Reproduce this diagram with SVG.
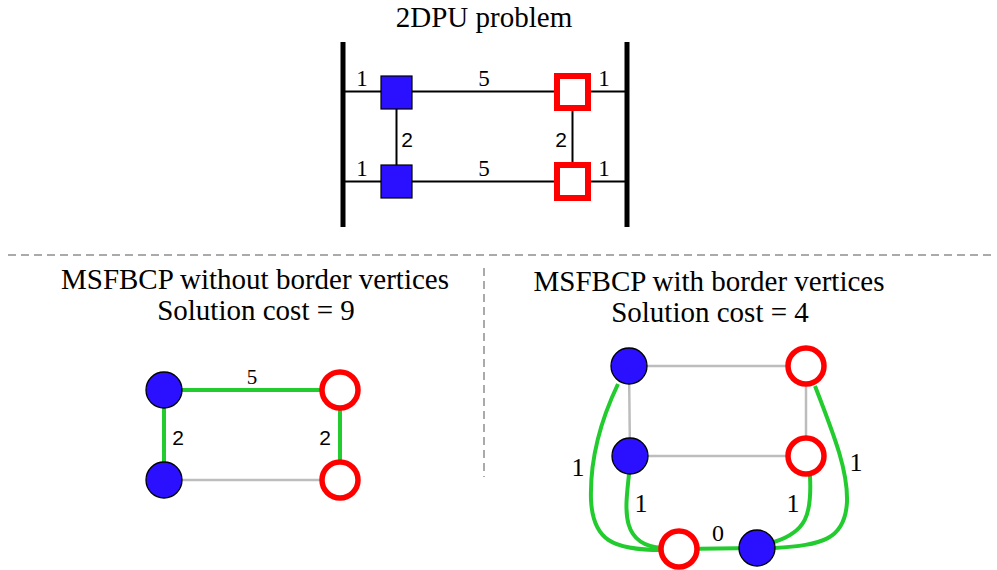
<svg xmlns="http://www.w3.org/2000/svg" width="997" height="570" viewBox="0 0 997 570">
<style>
.serif{font-family:'Liberation Serif','Times New Roman',Tinos,'Nimbus Roman','FreeSerif','DejaVu Serif','Noto Serif',Times,serif;fill:#000}
.sans{font-family:'Liberation Sans',Arial,'DejaVu Sans',sans-serif;fill:#000}
.title{font-size:29px;text-anchor:middle}
.lbl{text-anchor:middle}
.bar{stroke:#000;stroke-width:5;fill:none}
.blk{stroke:#000;stroke-width:2;fill:none}
.grn{stroke:#22cc2e;stroke-width:4;fill:none}
.gry{stroke:#bdbdbd;stroke-width:2.5;fill:none}
.dash{stroke:#aaaaaa;stroke-width:2;stroke-dasharray:8,5;fill:none}
.bsq{fill:#2a10ff;stroke:#000;stroke-width:1.2}
.rsq{fill:#fff;stroke:#ff0000;stroke-width:6}
.bci{fill:#2a10ff;stroke:#000;stroke-width:1.3}
.rci{fill:#fff;stroke:#ff0000;stroke-width:5.5}
</style>
<rect width="997" height="570" fill="#fff"/>

<g id="titles">
<text class="serif title" x="484" y="27">2DPU problem</text>
<text class="serif title" x="255" y="289">MSFBCP without border vertices</text>
<text class="serif title" x="256" y="320">Solution cost = 9</text>
<text class="serif title" x="709" y="291">MSFBCP with border vertices</text>
<text class="serif title" x="710" y="322">Solution cost = 4</text>
</g>

<g id="separators">
<line class="dash" x1="8" y1="255" x2="994" y2="255"/>
<line class="dash" x1="484" y1="268" x2="484" y2="477"/>
</g>

<g id="connectors">
<line class="bar" x1="343" y1="42" x2="343" y2="227"/>
<line class="bar" x1="627" y1="42" x2="627" y2="227"/>
<line class="blk" x1="343" y1="91.5" x2="627" y2="91.5"/>
<line class="blk" x1="343" y1="181.5" x2="627" y2="181.5"/>
<line class="blk" x1="396.5" y1="92" x2="396.5" y2="182"/>
<line class="blk" x1="572.5" y1="92" x2="572.5" y2="182"/>
<line class="grn" x1="164" y1="390" x2="340" y2="390"/>
<line class="grn" x1="164" y1="390" x2="164" y2="480"/>
<line class="grn" x1="340" y1="390" x2="340" y2="480"/>
<line class="gry" x1="164" y1="480" x2="340" y2="480"/>
<line class="gry" x1="629" y1="366" x2="806" y2="366"/>
<line class="gry" x1="630" y1="456" x2="806" y2="456"/>
<line class="gry" x1="629" y1="366" x2="630" y2="456"/>
<line class="gry" x1="806" y1="366" x2="806" y2="456"/>
<line class="grn" x1="679" y1="549" x2="757" y2="548"/>
<path class="grn" d="M618,384 C597,428 590,468 591,500 C593,540 612,550 662,550"/>
<path class="grn" d="M629,474 C626,505 618,545 662,548"/>
<path class="grn" d="M810,476 C812,515 806,532 774,542"/>
<path class="grn" d="M815,386 C836,440 848,472 847,502 C845,540 822,545 774,548"/>
</g>

<g id="labels">
<text class="serif lbl" font-size="23" x="362" y="86">1</text>
<text class="serif lbl" font-size="23" x="484" y="86">5</text>
<text class="serif lbl" font-size="23" x="604" y="86">1</text>
<text class="sans lbl" font-size="21" x="407" y="147">2</text>
<text class="sans lbl" font-size="21" x="561" y="147">2</text>
<text class="serif lbl" font-size="23" x="362" y="176">1</text>
<text class="serif lbl" font-size="23" x="484" y="176">5</text>
<text class="serif lbl" font-size="23" x="604" y="176">1</text>
<text class="serif lbl" font-size="21" x="252" y="384">5</text>
<text class="sans lbl" font-size="21" x="178" y="445">2</text>
<text class="sans lbl" font-size="21" x="325" y="445">2</text>
<text class="serif lbl" font-size="26" x="578" y="476">1</text>
<text class="serif lbl" font-size="26" x="641" y="512">1</text>
<text class="serif lbl" font-size="26" x="793" y="512">1</text>
<text class="serif lbl" font-size="26" x="856" y="471">1</text>
<text class="serif lbl" font-size="24" x="718" y="541">0</text>
</g>

<g id="n_top_b1"><rect class="bsq" x="381" y="76" width="31" height="33"/></g>
<g id="n_top_b2"><rect class="bsq" x="381" y="165" width="31" height="33"/></g>
<g id="n_top_r1"><rect class="rsq" x="557" y="76" width="31" height="32"/></g>
<g id="n_top_r2"><rect class="rsq" x="557" y="165" width="31" height="33"/></g>

<g id="n_l_b1"><circle class="bci" cx="164" cy="390" r="18"/></g>
<g id="n_l_b2"><circle class="bci" cx="164" cy="480" r="18"/></g>
<g id="n_l_r1"><circle class="rci" cx="340" cy="390" r="18"/></g>
<g id="n_l_r2"><circle class="rci" cx="340" cy="480" r="18"/></g>

<g id="n_r_b1"><circle class="bci" cx="629" cy="366" r="18"/></g>
<g id="n_r_r1"><circle class="rci" cx="806" cy="366" r="18"/></g>
<g id="n_r_b2"><circle class="bci" cx="630" cy="456" r="18"/></g>
<g id="n_r_r2"><circle class="rci" cx="806" cy="456" r="18"/></g>
<g id="n_r_r3"><circle class="rci" cx="679" cy="549" r="18"/></g>
<g id="n_r_b3"><circle class="bci" cx="757" cy="548" r="18"/></g>
</svg>
